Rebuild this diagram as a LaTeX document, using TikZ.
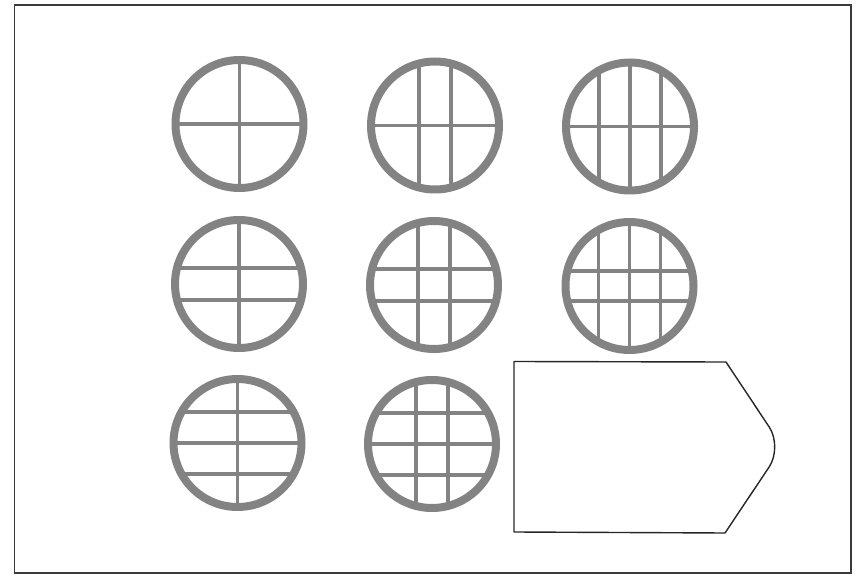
\documentclass[tikz,border=0pt]{standalone}
\definecolor{ringgray}{HTML}{838383}
\definecolor{framegray}{HTML}{3A3A3A}
\tikzset{
  ring/.style={draw=ringgray, line width=8pt},
  bar/.style={draw=ringgray, line width=3.6pt},
  frame/.style={draw=framegray, line width=1.4pt},
  tabshape/.style={draw=black!85, line width=1.4pt, line join=round}
}
\begin{document}
\begin{tikzpicture}[x=1pt,y=-1pt]
\useasboundingbox (0,0) rectangle (863,588);
\draw[frame] (14.5,5) rectangle (851,573);
\foreach \n/\cx/\cy/\vl/\hl in {
  w1/239.5/124/{0}/{0},
  w2/435/125.5/{-16,16}/{0},
  w3/630/126.5/{-31,0,31}/{0},
  w4/239/284/{0}/{-16,16},
  w5/434/285/{-16,16}/{-16,16},
  w6/629.5/286/{-31,0,31}/{-15,15},
  w7/237.5/443/{0}/{-31,0,31},
  w8/432/444/{-16,16}/{-31,0,31}}{
  \coordinate (\n) at (\cx,\cy);
  \begin{scope}
    \clip (\n) circle (64);
    \foreach \v in \vl {\draw[bar] ([xshift=\v pt, yshift=70pt]\n) -- ([xshift=\v pt, yshift=-70pt]\n);}
    \foreach \h in \hl {\draw[bar] ([yshift=-\h pt, xshift=-70pt]\n) -- ([yshift=-\h pt, xshift=70pt]\n);}
  \end{scope}
  \draw[ring] (\n) circle (64);
}
\coordinate (tl) at (514,361.5);
\coordinate (tr) at (726,362);
\coordinate (tip) at (782.5,447);
\coordinate (br) at (725,533);
\coordinate (bl) at (514,532);
\draw[tabshape] (tl) -- (tr) [rounded corners=24pt] -- (tip) [sharp corners] -- (br) -- (bl) -- cycle;
\end{tikzpicture}
\end{document}
